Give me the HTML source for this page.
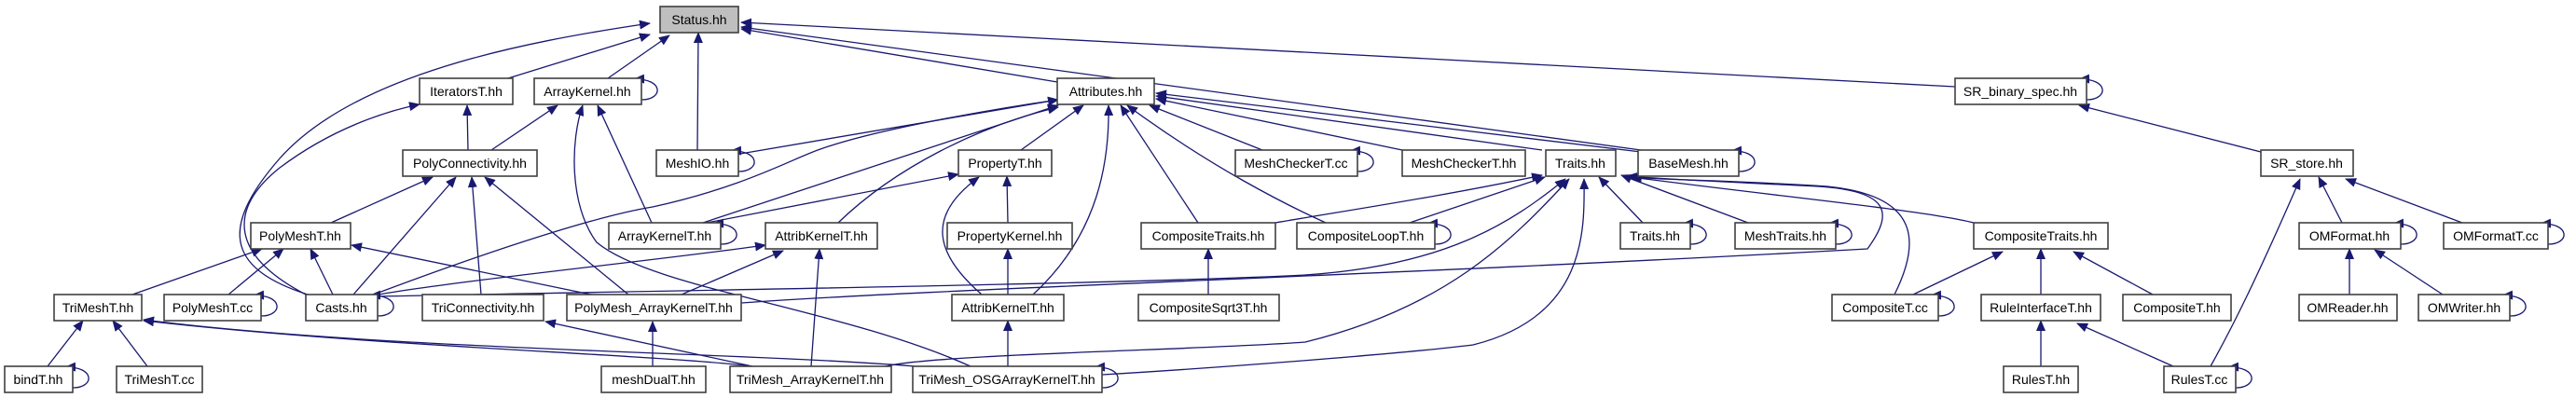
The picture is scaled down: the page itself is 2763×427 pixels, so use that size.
<!DOCTYPE html>
<html><head><meta charset="utf-8"><style>
html,body{margin:0;padding:0;background:#fff;}
svg{display:block;}
text{font-family:"Liberation Sans","DejaVu Sans",sans-serif;font-size:14px;fill:#000;text-anchor:middle;}
.n{fill:#fff;stroke:#404040;stroke-width:1.6;}
.e{fill:none;stroke:#191970;stroke-width:1.3;marker-end:url(#a);}
</style></head><body>
<svg width="2763" height="427" viewBox="0 0 2763 427" xmlns="http://www.w3.org/2000/svg">
<defs><marker id="a" markerWidth="12" markerHeight="10" refX="11" refY="5" orient="auto" markerUnits="userSpaceOnUse"><path d="M0,0 L12,5 L0,10z" fill="#191970"/></marker></defs>
<g>
<!-- edges to Status -->
<path class="e" d="M545,84 L697,37"/>
<path class="e" d="M652,84 L718,38"/>
<path class="e" d="M330,316 C250,290 230,250 300,170 C380,80 560,45 697,25"/>
<path class="e" d="M748,161 L749,35"/>
<path class="e" d="M1134,88 L795,31"/>
<path class="e" d="M1760,161 L795,29"/>
<path class="e" d="M2097,93 L795,24"/>
<!-- ArrayKernel / IteratorsT -->
<path class="e" d="M527,161 L598,113"/>
<path class="e" d="M502,161 L501,113"/>
<path class="e" d="M699,239 L641,113"/>
<path class="e" d="M1041,393 C900,330 700,310 640,260 C610,220 612,150 625,113"/>
<path class="e" d="M328,316 C240,270 250,220 300,180 C360,135 420,118 450,112"/>
<!-- PolyConnectivity -->
<path class="e" d="M355,239 L464,190"/>
<path class="e" d="M379,316 L489,190"/>
<path class="e" d="M516,316 L506,190"/>
<path class="e" d="M674,316 L520,190"/>
<!-- PolyMeshT -->
<path class="e" d="M142,316 L281,267"/>
<path class="e" d="M245,316 L304,267"/>
<path class="e" d="M357,316 L333,267"/>
<path class="e" d="M634,316 L377,263"/>
<!-- TriMeshT -->
<path class="e" d="M51,393 L89,344"/>
<path class="e" d="M158,393 L121,344"/>
<path class="e" d="M807,393 C700,380 400,372 154,344"/>
<path class="e" d="M981,393 C800,378 400,375 154,343"/>
<path class="e" d="M807,393 L585,345"/>
<path class="e" d="M700,393 L700,345"/>
<!-- Attributes -->
<path class="e" d="M794,165 L1135,107"/>
<path class="e" d="M406,314 C550,260 650,230 700,222 C800,200 850,170 880,160 C950,135 1100,112 1135,107"/>
<path class="e" d="M754,239 L1135,113"/>
<path class="e" d="M899,239 C960,180 1050,135 1135,115"/>
<path class="e" d="M1095,161 L1162,113"/>
<path class="e" d="M1108,316 C1180,250 1190,170 1189,113"/>
<path class="e" d="M1285,239 L1202,113"/>
<path class="e" d="M1422,239 C1380,220 1300,180 1209,113"/>
<path class="e" d="M1354,161 L1233,113"/>
<path class="e" d="M1504,161 L1240,106"/>
<path class="e" d="M1654,161 L1240,103"/>
<path class="e" d="M1760,163 L1240,100"/>
<!-- PropertyT -->
<path class="e" d="M758,239 L1028,187"/>
<path class="e" d="M1081,239 L1080,189"/>
<path class="e" d="M1053,316 C1000,270 995,230 1050,190"/>
<!-- AttribKernelT r4 -->
<path class="e" d="M731,316 L840,269"/>
<path class="e" d="M406,316 C500,300 700,280 821,263"/>
<path class="e" d="M870,393 L879,267"/>
<!-- AttribKernelT r5 -->
<path class="e" d="M1081,316 L1081,267"/>
<path class="e" d="M1081,393 L1081,344"/>
<path class="e" d="M1296,316 L1296,267"/>
<!-- Traits r3 -->
<path class="e" d="M1368,239 C1450,225 1550,210 1654,188"/>
<path class="e" d="M1512,239 L1657,190"/>
<path class="e" d="M406,318 C700,312 1200,305 1400,295 C1550,285 1620,240 1679,192"/>
<path class="e" d="M795,325 C1000,310 1500,295 2003,267 C2030,230 2030,205 1950,200 C1850,195 1780,192 1745,189"/>
<path class="e" d="M950,393 C1000,380 1300,375 1400,367 C1550,330 1620,260 1683,192"/>
<path class="e" d="M1182,402 C1300,395 1500,380 1580,370 C1700,340 1700,250 1699,192"/>
<path class="e" d="M1762,239 L1715,190"/>
<path class="e" d="M1875,239 L1739,188"/>
<path class="e" d="M2032,316 C2060,260 2060,210 1960,200 C1850,193 1780,193 1748,190"/>
<path class="e" d="M2117,239 C2060,225 1900,210 1750,190"/>
<!-- right cluster -->
<path class="e" d="M2052,316 L2148,270"/>
<path class="e" d="M2189,316 L2189,267"/>
<path class="e" d="M2309,316 L2224,270"/>
<path class="e" d="M2189,393 L2189,344"/>
<path class="e" d="M2331,393 L2228,347"/>
<path class="e" d="M2425,163 L2230,113"/>
<path class="e" d="M2371,393 C2395,350 2420,300 2467,192"/>
<path class="e" d="M2512,239 L2487,190"/>
<path class="e" d="M2641,239 L2516,192"/>
<path class="e" d="M2520,316 L2520,267"/>
<path class="e" d="M2620,316 L2547,268"/>
<!-- self loops -->
<path class="e" d="M688,107 C712,107 712,84 680,85"/>
<path class="e" d="M2238,107 C2262,107 2262,84 2230,85"/>
<path class="e" d="M792,184 C816,184 816,161 784,162"/>
<path class="e" d="M1456,184 C1480,184 1480,161 1448,162"/>
<path class="e" d="M1865,184 C1889,184 1889,161 1857,162"/>
<path class="e" d="M773,262 C797,262 797,239 765,240"/>
<path class="e" d="M1539,262 C1563,262 1563,239 1531,240"/>
<path class="e" d="M1813,262 C1837,262 1837,239 1805,240"/>
<path class="e" d="M1969,262 C1993,262 1993,239 1961,240"/>
<path class="e" d="M2575,262 C2599,262 2599,239 2567,240"/>
<path class="e" d="M2733,262 C2757,262 2757,239 2725,240"/>
<path class="e" d="M280,339 C304,339 304,316 272,317"/>
<path class="e" d="M405,339 C429,339 429,316 397,317"/>
<path class="e" d="M2079,339 C2103,339 2103,316 2071,317"/>
<path class="e" d="M2692,339 C2716,339 2716,316 2684,317"/>
<path class="e" d="M78,416 C102,416 102,393 70,394"/>
<path class="e" d="M1182,416 C1206,416 1206,393 1174,394"/>
<path class="e" d="M2398,416 C2422,416 2422,393 2390,394"/>
</g>
<g>
<rect x="708" y="7" width="84" height="28" style="fill:#bfbfbf;stroke:#404040;stroke-width:1.6"/><text x="750" y="26">Status.hh</text>
<rect class="n" x="450" y="84" width="100" height="28"/><text x="500" y="103">IteratorsT.hh</text>
<rect class="n" x="573" y="84" width="115" height="28"/><text x="630" y="103">ArrayKernel.hh</text>
<rect class="n" x="1134" y="84" width="104" height="28"/><text x="1186" y="103">Attributes.hh</text>
<rect class="n" x="2097" y="84" width="141" height="28"/><text x="2167" y="103">SR_binary_spec.hh</text>
<rect class="n" x="432" y="161" width="144" height="28"/><text x="504" y="180">PolyConnectivity.hh</text>
<rect class="n" x="704" y="161" width="88" height="28"/><text x="748" y="180">MeshIO.hh</text>
<rect class="n" x="1028" y="161" width="100" height="28"/><text x="1078" y="180">PropertyT.hh</text>
<rect class="n" x="1325" y="161" width="131" height="28"/><text x="1390" y="180">MeshCheckerT.cc</text>
<rect class="n" x="1504" y="161" width="132" height="28"/><text x="1570" y="180">MeshCheckerT.hh</text>
<rect class="n" x="1658" y="161" width="75" height="28"/><text x="1695" y="180">Traits.hh</text>
<rect class="n" x="1757" y="161" width="108" height="28"/><text x="1811" y="180">BaseMesh.hh</text>
<rect class="n" x="2425" y="161" width="99" height="28"/><text x="2474" y="180">SR_store.hh</text>
<rect class="n" x="269" y="239" width="107" height="28"/><text x="322" y="258">PolyMeshT.hh</text>
<rect class="n" x="653" y="239" width="120" height="28"/><text x="713" y="258">ArrayKernelT.hh</text>
<rect class="n" x="821" y="239" width="120" height="28"/><text x="881" y="258">AttribKernelT.hh</text>
<rect class="n" x="1016" y="239" width="134" height="28"/><text x="1083" y="258">PropertyKernel.hh</text>
<rect class="n" x="1224" y="239" width="144" height="28"/><text x="1296" y="258">CompositeTraits.hh</text>
<rect class="n" x="1391" y="239" width="148" height="28"/><text x="1465" y="258">CompositeLoopT.hh</text>
<rect class="n" x="1738" y="239" width="75" height="28"/><text x="1775" y="258">Traits.hh</text>
<rect class="n" x="1861" y="239" width="108" height="28"/><text x="1915" y="258">MeshTraits.hh</text>
<rect class="n" x="2117" y="239" width="144" height="28"/><text x="2189" y="258">CompositeTraits.hh</text>
<rect class="n" x="2466" y="239" width="109" height="28"/><text x="2520" y="258">OMFormat.hh</text>
<rect class="n" x="2621" y="239" width="112" height="28"/><text x="2677" y="258">OMFormatT.cc</text>
<rect class="n" x="58" y="316" width="94" height="28"/><text x="105" y="335">TriMeshT.hh</text>
<rect class="n" x="176" y="316" width="104" height="28"/><text x="228" y="335">PolyMeshT.cc</text>
<rect class="n" x="328" y="316" width="77" height="28"/><text x="366" y="335">Casts.hh</text>
<rect class="n" x="453" y="316" width="130" height="28"/><text x="518" y="335">TriConnectivity.hh</text>
<rect class="n" x="608" y="316" width="187" height="28"/><text x="701" y="335">PolyMesh_ArrayKernelT.hh</text>
<rect class="n" x="1021" y="316" width="120" height="28"/><text x="1081" y="335">AttribKernelT.hh</text>
<rect class="n" x="1221" y="316" width="151" height="28"/><text x="1296" y="335">CompositeSqrt3T.hh</text>
<rect class="n" x="1965" y="316" width="114" height="28"/><text x="2022" y="335">CompositeT.cc</text>
<rect class="n" x="2125" y="316" width="128" height="28"/><text x="2189" y="335">RuleInterfaceT.hh</text>
<rect class="n" x="2277" y="316" width="116" height="28"/><text x="2335" y="335">CompositeT.hh</text>
<rect class="n" x="2466" y="316" width="105" height="28"/><text x="2518" y="335">OMReader.hh</text>
<rect class="n" x="2594" y="316" width="98" height="28"/><text x="2643" y="335">OMWriter.hh</text>
<rect class="n" x="5" y="393" width="73" height="28"/><text x="41" y="412">bindT.hh</text>
<rect class="n" x="125" y="393" width="92" height="28"/><text x="171" y="412">TriMeshT.cc</text>
<rect class="n" x="645" y="393" width="112" height="28"/><text x="701" y="412">meshDualT.hh</text>
<rect class="n" x="783" y="393" width="173" height="28"/><text x="869" y="412">TriMesh_ArrayKernelT.hh</text>
<rect class="n" x="979" y="393" width="203" height="28"/><text x="1080" y="412">TriMesh_OSGArrayKernelT.hh</text>
<rect class="n" x="2149" y="393" width="80" height="28"/><text x="2189" y="412">RulesT.hh</text>
<rect class="n" x="2321" y="393" width="77" height="28"/><text x="2359" y="412">RulesT.cc</text>
</g>
</svg>
</body></html>
